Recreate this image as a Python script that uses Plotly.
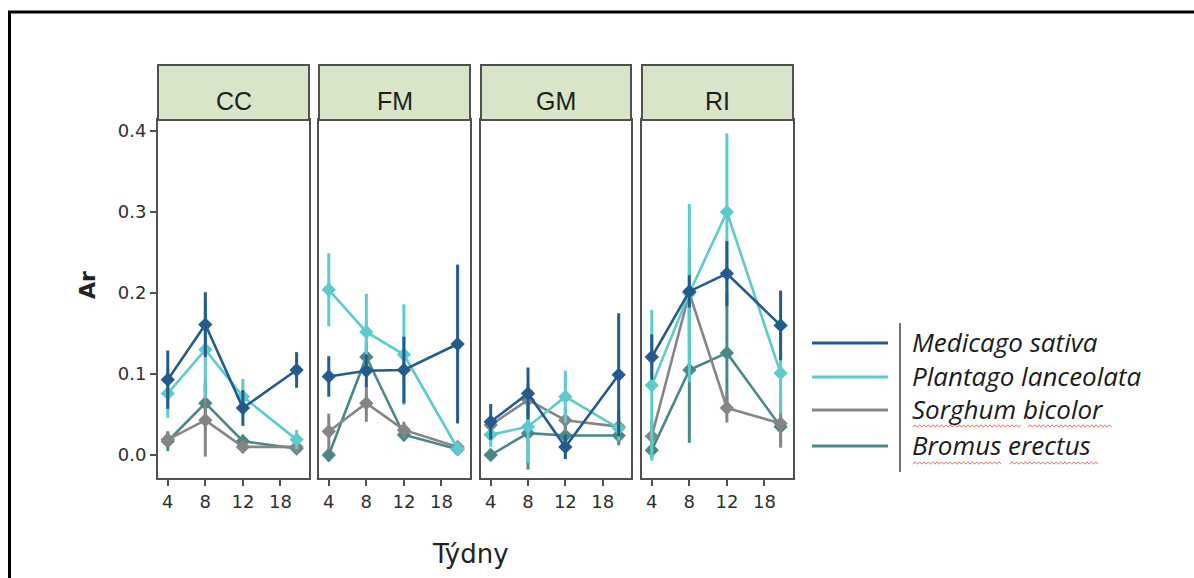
import plotly.graph_objects as go

W, H = 1194, 578

# ---------------- data ----------------
panels = ["CC", "FM", "GM", "RI"]
x_pos = [1, 2, 3, 4.43]            # plotted positions of the four sampling times
tick_vals = [1, 2, 3, 4]
tick_text = ["4", "8", "12", "18"]
y_ticks = [0.0, 0.1, 0.2, 0.3, 0.4]

species = ["Medicago sativa", "Plantago lanceolata", "Sorghum bicolor", "Bromus erectus"]
colors = ["#235b8e", "#5ccbcd", "#858585", "#4a8788"]

# means, 4 values per panel in order CC, FM, GM, RI
medicago = [0.093, 0.161, 0.058, 0.105,
            0.097, 0.104, 0.105, 0.137,
            0.041, 0.076, 0.010, 0.099,
            0.121, 0.202, 0.224, 0.160]
plantago = [0.076, 0.130, 0.072, 0.019,
            0.204, 0.152, 0.124, 0.008,
            0.025, 0.035, 0.072, 0.033,
            0.086, 0.200, 0.300, 0.101]
sorghum = [0.019, 0.043, 0.010, 0.010,
           0.029, 0.064, 0.031, 0.010,
           0.037, 0.068, 0.043, 0.035,
           0.023, 0.200, 0.058, 0.039]
bromus = [0.017, 0.064, 0.017, 0.008,
          0.000, 0.121, 0.025, 0.007,
          0.000, 0.027, 0.024, 0.024,
          0.006, 0.105, 0.126, 0.035]

# error half-widths
medicago_err = [0.036, 0.040, 0.022, 0.022,
                0.025, 0.020, 0.041, 0.098,
                0.022, 0.032, 0.015, 0.076,
                0.028, 0.020, 0.040, 0.043]
plantago_err = [0.030, 0.060, 0.022, 0.012,
                0.045, 0.047, 0.062, 0.008,
                0.015, 0.045, 0.032, 0.015,
                0.093, 0.110, 0.097, 0.050]
sorghum_err = [0.010, 0.045, 0.008, 0.006,
               0.022, 0.023, 0.010, 0.006,
               0.010, 0.020, 0.015, 0.020,
               0.020, 0.055, 0.018, 0.030]
bromus_err = [0.012, 0.028, 0.008, 0.006,
              0.008, 0.020, 0.008, 0.005,
              0.006, 0.045, 0.012, 0.012,
              0.010, 0.090, 0.075, 0.020]

means = [medicago, plantago, sorghum, bromus]
errs = [medicago_err, plantago_err, sorghum_err, bromus_err]

# ---------------- layout helpers ----------------
def px(x):
    return x / W

def py(y):
    return 1 - y / H

panel_px = [(158, 309), (319, 470), (481, 631), (642, 793)]
plot_top, plot_bot = 120, 478
strip_top = 65
x_range = [0.74, 4.76]
y_range = [-0.0284, 0.4136]

frame_col = "#505050"
tick_font = dict(family="DejaVu Sans", size=18, color="#2e2e2e")

fig = go.Figure()

draw_order = [3, 2, 1, 0]
for p in range(4):
    xa = "x" if p == 0 else f"x{p+1}"
    ya = "y" if p == 0 else f"y{p+1}"
    for s in draw_order:
        vals = means[s][4 * p:4 * p + 4]
        ev = errs[s][4 * p:4 * p + 4]
        fig.add_trace(go.Scatter(
            x=x_pos, y=vals, xaxis=xa, yaxis=ya,
            mode="lines+markers",
            line=dict(color=colors[s], width=2.6),
            marker=dict(color=colors[s], size=11, symbol="diamond"),
            error_y=dict(type="data", array=ev, visible=True,
                         color=colors[s], thickness=3, width=0),
            name=species[s], showlegend=False,
        ))

layout = dict(
    width=W, height=H,
    margin=dict(l=0, r=0, t=0, b=0),
    paper_bgcolor="white", plot_bgcolor="white",
    showlegend=False,
)

for p in range(4):
    xk = "xaxis" if p == 0 else f"xaxis{p+1}"
    yk = "yaxis" if p == 0 else f"yaxis{p+1}"
    ya = "y" if p == 0 else f"y{p+1}"
    xa = "x" if p == 0 else f"x{p+1}"
    layout[xk] = dict(
        domain=[px(panel_px[p][0]), px(panel_px[p][1])],
        anchor=ya, range=x_range,
        tickvals=tick_vals, ticktext=tick_text,
        ticks="outside", ticklen=6, tickwidth=2, tickcolor=frame_col,
        showline=True, linecolor=frame_col, linewidth=2, mirror=True,
        showgrid=False, zeroline=False, tickfont=tick_font,
    )
    layout[yk] = dict(
        domain=[py(plot_bot), py(plot_top)],
        anchor=xa, range=y_range,
        tickvals=y_ticks, ticktext=[f"{v:.1f}" for v in y_ticks],
        ticks="outside" if p == 0 else "", ticklen=6, tickwidth=2, tickcolor=frame_col,
        showticklabels=(p == 0),
        showline=True, linecolor=frame_col, linewidth=2, mirror=True,
        showgrid=False, zeroline=False, tickfont=tick_font,
    )

fig.update_layout(**layout)

shapes = []
annotations = []

# strips
for p, name in enumerate(panels):
    x0, x1 = panel_px[p]
    shapes.append(dict(type="rect", xref="paper", yref="paper",
                       x0=px(x0), x1=px(x1), y0=py(plot_top), y1=py(strip_top),
                       fillcolor="#d8e5c8", line=dict(color=frame_col, width=2)))
    annotations.append(dict(xref="paper", yref="paper", x=px((x0 + x1) / 2), y=py(101),
                            text=name, showarrow=False, xanchor="center", yanchor="middle",
                            font=dict(family="Liberation Sans", size=25, color="#1e1e1e")))

# axis titles
annotations.append(dict(xref="paper", yref="paper", x=px(470), y=py(554),
                        text="Týdny", showarrow=False, xanchor="center", yanchor="middle",
                        font=dict(family="DejaVu Sans", size=26, color="#222222")))
annotations.append(dict(xref="paper", yref="paper", x=px(87), y=py(285),
                        text="<b>Ar</b>", showarrow=False, textangle=-90,
                        xanchor="center", yanchor="middle",
                        font=dict(family="DejaVu Sans", size=22, color="#222222")))

# legend (lines only, separator, italic labels)
leg_y = [343, 377, 410, 446]
for s in range(4):
    shapes.append(dict(type="line", xref="paper", yref="paper",
                       x0=px(812), x1=px(888), y0=py(leg_y[s]), y1=py(leg_y[s]),
                       line=dict(color=colors[s], width=3)))
    annotations.append(dict(xref="paper", yref="paper", x=px(910), y=py(leg_y[s] - 1),
                            text=species[s], showarrow=False, xanchor="left", yanchor="middle",
                            font=dict(family="Open Sans", size=26, color="#1a1a1a", style="italic")))
shapes.append(dict(type="line", xref="paper", yref="paper",
                   x0=px(900), x1=px(900), y0=py(323), y1=py(472),
                   line=dict(color="#707070", width=2)))

# red spell-check squiggles under the last two labels
def squiggle(x0, x1, y):
    pts = []
    x = x0
    k = 0
    while x <= x1:
        yy = y + (1.2 if k % 2 == 0 else -1.2)
        pts.append(f"{px(x):.5f},{py(yy):.5f}")
        x += 2.2
        k += 1
    return "M " + " L ".join(pts)

for (a, b, yy) in [(913, 1022, 426), (1028, 1112, 426), (913, 1003, 463), (1010, 1100, 463)]:
    shapes.append(dict(type="path", xref="paper", yref="paper", path=squiggle(a, b, yy),
                       line=dict(color="#e06a6a", width=1)))

# outer black frame (top and left edges visible)
shapes.append(dict(type="line", xref="paper", yref="paper",
                   x0=px(8), x1=1.01, y0=py(12), y1=py(12),
                   line=dict(color="black", width=3)))
shapes.append(dict(type="line", xref="paper", yref="paper",
                   x0=px(9.5), x1=px(9.5), y0=py(11), y1=-0.01,
                   line=dict(color="black", width=3)))

fig.update_layout(shapes=shapes, annotations=annotations)

fig.write_html("out.html")
